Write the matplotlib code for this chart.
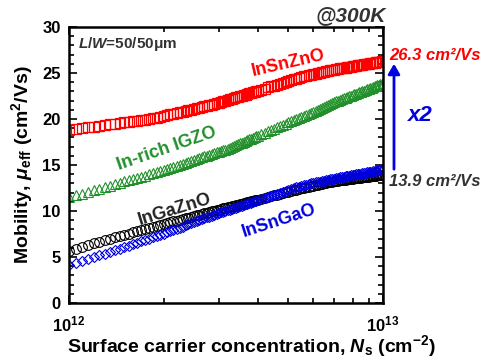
import numpy as np
import matplotlib
matplotlib.use('Agg')
import matplotlib.pyplot as plt
from matplotlib.ticker import MultipleLocator, FixedLocator, NullFormatter

plt.rcParams['font.family'] = ['Liberation Sans', 'DejaVu Sans']
plt.rcParams['font.weight'] = 'bold'
plt.rcParams['mathtext.fontset'] = 'custom'
plt.rcParams['mathtext.rm'] = 'Liberation Sans:bold'
plt.rcParams['mathtext.bf'] = 'Liberation Sans:bold'
plt.rcParams['mathtext.it'] = 'Liberation Sans:italic:bold'

# sheet carrier density sweep (x 1e12 cm^-2)
ns = np.concatenate([np.arange(1.0, 4.0001, 0.05), np.arange(4.1, 10.0001, 0.1)]) * 1e12

# InSnZnO (red squares)
mu_itzo = [18.80, 18.90, 18.99, 19.08, 19.17, 19.25, 19.33, 19.41, 19.48, 19.55,
           19.62, 19.69, 19.75, 19.81, 19.87, 19.93, 19.99, 20.07, 20.16, 20.25,
           20.34, 20.42, 20.50, 20.58, 20.66, 20.74, 20.81, 20.89, 20.96, 21.03,
           21.10, 21.17, 21.23, 21.30, 21.36, 21.42, 21.49, 21.56, 21.64, 21.71,
           21.79, 21.86, 21.93, 22.00, 22.07, 22.14, 22.21, 22.28, 22.34, 22.41,
           22.47, 22.53, 22.59, 22.66, 22.72, 22.78, 22.84, 22.90, 22.96, 23.02,
           23.08,
           23.20, 23.31, 23.43, 23.54, 23.64, 23.74, 23.84, 23.93, 24.03, 24.12,
           24.21, 24.30, 24.39, 24.47, 24.55, 24.63, 24.69, 24.75, 24.81, 24.87,
           24.93, 24.98, 25.04, 25.10, 25.15, 25.20, 25.26, 25.31, 25.35, 25.38,
           25.42, 25.46, 25.49, 25.53, 25.56, 25.59, 25.63, 25.66, 25.69, 25.73,
           25.76, 25.79, 25.82, 25.85, 25.88, 25.91, 25.94, 25.97, 26.00, 26.03,
           26.06, 26.08, 26.11, 26.14, 26.17, 26.19, 26.22, 26.25, 26.27, 26.30]

# In-rich IGZO (green triangles)
mu_inigzo = [11.50, 11.71, 11.90, 12.09, 12.27, 12.44, 12.60, 12.76, 12.92, 13.06,
             13.21, 13.34, 13.48, 13.61, 13.73, 13.85, 13.97, 14.10, 14.23, 14.36,
             14.48, 14.60, 14.72, 14.83, 14.94, 15.05, 15.16, 15.26, 15.36, 15.46,
             15.56, 15.66, 15.75, 15.84, 15.94, 16.02, 16.11, 16.20, 16.28, 16.36,
             16.45, 16.53, 16.60, 16.68, 16.77, 16.87, 16.97, 17.07, 17.16, 17.26,
             17.35, 17.44, 17.53, 17.62, 17.70, 17.79, 17.87, 17.96, 18.04, 18.12,
             18.20,
             18.36, 18.51, 18.66, 18.81, 18.95, 19.09, 19.23, 19.36, 19.50, 19.63,
             19.75, 19.88, 20.00, 20.12, 20.23, 20.35, 20.47, 20.58, 20.69, 20.80,
             20.91, 21.02, 21.13, 21.23, 21.33, 21.43, 21.53, 21.63, 21.73, 21.82,
             21.92, 21.99, 22.08, 22.16, 22.23, 22.31, 22.39, 22.46, 22.53, 22.61,
             22.68, 22.75, 22.82, 22.89, 22.96, 23.02, 23.09, 23.16, 23.22, 23.29,
             23.35, 23.41, 23.48, 23.54, 23.60, 23.66, 23.72, 23.78, 23.84, 23.90]

# InGaZnO (black circles)
mu_igzo = [5.70, 5.91, 6.10, 6.29, 6.47, 6.64, 6.80, 6.96, 7.12, 7.26,
           7.41, 7.54, 7.68, 7.81, 7.93, 8.05, 8.17, 8.28, 8.39, 8.49,
           8.58, 8.68, 8.77, 8.86, 8.95, 9.04, 9.13, 9.21, 9.29, 9.37,
           9.45, 9.52, 9.60, 9.67, 9.75, 9.82, 9.89, 9.96, 10.02, 10.09,
           10.15, 10.22, 10.28, 10.34, 10.40, 10.46, 10.52, 10.57, 10.63, 10.69,
           10.74, 10.79, 10.85, 10.90, 10.95, 11.00, 11.05, 11.10, 11.15, 11.20,
           11.25,
           11.34, 11.43, 11.52, 11.61, 11.70, 11.78, 11.86, 11.94, 12.02, 12.10,
           12.17, 12.25, 12.32, 12.39, 12.46, 12.52, 12.58, 12.64, 12.69, 12.74,
           12.80, 12.85, 12.90, 12.95, 13.00, 13.05, 13.10, 13.14, 13.19, 13.23,
           13.28, 13.31, 13.34, 13.37, 13.39, 13.42, 13.45, 13.47, 13.49, 13.52,
           13.54, 13.57, 13.59, 13.61, 13.64, 13.66, 13.68, 13.70, 13.72, 13.75,
           13.77, 13.79, 13.81, 13.83, 13.85, 13.87, 13.89, 13.91, 13.93, 13.95]

# InSnGaO (blue diamonds)
mu_itgo = [4.10, 4.34, 4.57, 4.78, 4.99, 5.19, 5.38, 5.56, 5.74, 5.91,
           6.08, 6.24, 6.39, 6.54, 6.69, 6.83, 6.97, 7.12, 7.26, 7.41,
           7.55, 7.68, 7.81, 7.94, 8.07, 8.19, 8.31, 8.43, 8.55, 8.66,
           8.77, 8.88, 8.99, 9.09, 9.20, 9.30, 9.40, 9.50, 9.59, 9.69,
           9.77, 9.85, 9.93, 10.01, 10.08, 10.16, 10.23, 10.31, 10.38, 10.45,
           10.52, 10.59, 10.66, 10.73, 10.79, 10.86, 10.92, 10.99, 11.05, 11.11,
           11.17,
           11.29, 11.41, 11.53, 11.64, 11.75, 11.86, 11.97, 12.07, 12.17, 12.27,
           12.37, 12.47, 12.56, 12.66, 12.75, 12.82, 12.88, 12.94, 12.99, 13.04,
           13.10, 13.15, 13.20, 13.25, 13.30, 13.35, 13.40, 13.44, 13.49, 13.53,
           13.58, 13.62, 13.66, 13.69, 13.73, 13.77, 13.80, 13.83, 13.87, 13.90,
           13.94, 13.97, 14.00, 14.03, 14.06, 14.10, 14.13, 14.16, 14.19, 14.22,
           14.25, 14.28, 14.31, 14.33, 14.36, 14.39, 14.42, 14.45, 14.47, 14.50]

RED = '#ff0000'
GREEN = '#22902a'
BLUE = '#0000e0'


def px(x, y):
    # pixel position in the 504x359 picture -> figure fraction
    return x / 504, 1 - y / 359


fig = plt.figure(figsize=(5.04, 3.59), dpi=100)
ax = fig.add_axes([69 / 504, 1 - 303 / 359, 314 / 504, 276 / 359])

ax.plot(ns, mu_itzo, 's', mfc='none', mec=RED, ms=7, mew=0.9)
ax.plot(ns, mu_inigzo, '^', mfc='none', mec=GREEN, ms=7, mew=0.8)
ax.plot(ns, mu_igzo, 'o', mfc='none', mec='black', ms=7, mew=0.8)
ax.plot(ns, mu_itgo, 'D', mfc='none', mec=BLUE, ms=5.5, mew=0.8)

ax.set_xscale('log')
ax.set_xlim(1e12, 1e13)
ax.set_ylim(0, 30)
ax.xaxis.set_major_locator(FixedLocator([1e12, 1e13]))
ax.xaxis.set_minor_locator(FixedLocator([k * 1e12 for k in range(2, 10)]))
ax.xaxis.set_minor_formatter(NullFormatter())
ax.set_xticklabels([r'10$^{12}$', r'10$^{13}$'])
ax.yaxis.set_major_locator(MultipleLocator(5))
ax.yaxis.set_minor_locator(MultipleLocator(1))

for s in ax.spines.values():
    s.set_linewidth(1.8)
ax.tick_params(which='both', direction='in', top=True, right=True, width=1.2)
ax.tick_params(which='major', length=6, labelsize=12)
ax.tick_params(axis='x', which='major', pad=8)
ax.tick_params(axis='y', which='major', pad=6)
ax.tick_params(which='minor', length=3.5)

ax.set_xlabel(r'Surface carrier concentration, $N$$_{\mathregular{s}}$ (cm$^{-2}$)',
              fontsize=14, fontweight='bold')
ax.xaxis.set_label_coords(0.58, -0.11)
ax.set_ylabel(r'Mobility, $\mu$$_{\mathregular{eff}}$ (cm$^{2}$/Vs)',
              fontsize=14, fontweight='bold', labelpad=5)

# annotations
fig.text(*px(78, 44), r'$L$/$W$=50/50$\mathregular{\mu}$m', fontsize=11, color='#333333',
         ha='left', va='center')
fig.text(*px(351, 16), '@300K', fontsize=15, style='italic', color='#333333',
         ha='center', va='center')
fig.text(*px(288, 63), 'InSnZnO', fontsize=13, color=RED, rotation=13,
         ha='center', va='center')
fig.text(*px(167, 149), 'In-rich IGZO', fontsize=13, color=GREEN, rotation=19,
         ha='center', va='center')
fig.text(*px(175, 210), 'InGaZnO', fontsize=13, color='#222222', rotation=17,
         ha='center', va='center')
fig.text(*px(279, 221), 'InSnGaO', fontsize=13, color=BLUE, rotation=18,
         ha='center', va='center')
fig.text(*px(389, 55), '26.3 cm²/Vs', fontsize=12, style='italic', color=RED,
         ha='left', va='center')
fig.text(*px(389, 181), '13.9 cm²/Vs', fontsize=12, style='italic', color='#333333',
         ha='left', va='center')
fig.text(*px(420, 115), 'x2', fontsize=16, style='italic', color=BLUE,
         ha='center', va='center')
fig.add_artist(plt.matplotlib.patches.FancyArrowPatch(
    px(394, 172), px(394, 61), transform=fig.transFigure,
    arrowstyle='-|>,head_length=6,head_width=3.5', color=BLUE, lw=2))

fig.savefig('out.png', dpi=100)
